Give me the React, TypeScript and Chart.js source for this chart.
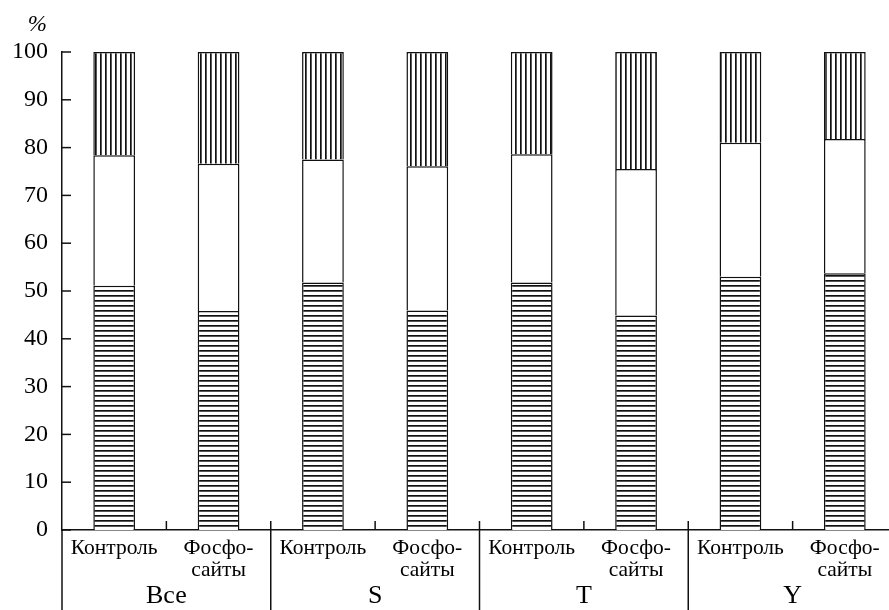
import React, { useEffect, useRef } from "react";
import { Chart, registerables } from "chart.js";

Chart.register(...registerables);

const categories: (string | string[])[] = [
  "Контроль", ["Фосфо-", "сайты"],
  "Контроль", ["Фосфо-", "сайты"],
  "Контроль", ["Фосфо-", "сайты"],
  "Контроль", ["Фосфо-", "сайты"],
];
const groups = ["Все", "S", "T", "Y"];
const bottomPart = [51.1, 45.8, 51.8, 45.9, 51.8, 44.9, 53.0, 53.7];
const middlePart = [27.3, 30.8, 25.7, 30.2, 26.8, 30.6, 28.0, 28.1];
const topPart = [21.6, 23.4, 22.5, 23.9, 21.4, 24.5, 19.0, 18.2];
const yTicks = [0, 10, 20, 30, 40, 50, 60, 70, 80, 90, 100];

const FONT = "'Liberation Serif'";
const LINE = "#111";

function makePattern(horizontal: boolean): CanvasPattern | string {
  const tile = document.createElement("canvas");
  tile.width = 5;
  tile.height = 5;
  const c = tile.getContext("2d");
  if (!c) return "#fff";
  c.fillStyle = "#fff";
  c.fillRect(0, 0, 5, 5);
  c.fillStyle = LINE;
  if (horizontal) c.fillRect(0, 0, 5, 1.7);
  else c.fillRect(0, 0, 1.7, 5);
  const p = c.createPattern(tile, "repeat");
  return p || "#fff";
}

const decorPlugin = {
  id: "decor",
  afterDraw(chart: any) {
    const { ctx, chartArea, scales } = chart;
    const x = scales.x;
    const y = scales.y;
    const line = (x1: number, y1: number, x2: number, y2: number) => {
      ctx.beginPath();
      ctx.moveTo(x1, y1);
      ctx.lineTo(x2, y2);
      ctx.stroke();
    };
    ctx.save();
    ctx.strokeStyle = LINE;
    ctx.lineWidth = 1.5;
    y.ticks.forEach((t: any) => {
      const py = y.getPixelForValue(t.value);
      line(chartArea.left, py, chartArea.left + 9, py);
    });
    for (let i = 1; i < categories.length; i++) {
      const bx = (x.getPixelForValue(i - 1) + x.getPixelForValue(i)) / 2;
      const isGroupEdge = i % 2 === 0;
      line(bx, chartArea.bottom - 9, bx, isGroupEdge ? chart.height : chartArea.bottom);
    }
    line(chartArea.left, chartArea.bottom, chartArea.left, chart.height);
    ctx.fillStyle = "#000";
    ctx.font = `italic 23px ${FONT}`;
    ctx.textAlign = "right";
    ctx.textBaseline = "alphabetic";
    ctx.fillText("%", chartArea.left - 15, chartArea.top - 21);
    ctx.restore();
  },
};

export default function App() {
  const ref = useRef<HTMLCanvasElement>(null);
  useEffect(() => {
    if (!ref.current) return;
    Chart.defaults.font.family = FONT;
    const hPat = makePattern(true);
    const vPat = makePattern(false);
    const border = { top: 1.5, left: 1.5, right: 1.5, bottom: 0 };
    const common = {
      borderColor: LINE,
      borderWidth: border,
      borderSkipped: false as const,
      barPercentage: 0.4,
      categoryPercentage: 1,
      xAxisID: "x",
      yAxisID: "y",
    };
    const chart = new Chart(ref.current, {
      type: "bar",
      data: {
        labels: categories,
        datasets: [
          { label: "bottom", data: bottomPart, backgroundColor: hPat as any, ...common },
          { label: "middle", data: middlePart, backgroundColor: "#fff", ...common },
          { label: "top", data: topPart, backgroundColor: vPat as any, ...common },
        ],
      },
      options: {
        animation: false,
        responsive: false,
        devicePixelRatio: 1,
        layout: { padding: { left: 8, top: 52, right: 4, bottom: 0 } },
        plugins: { legend: { display: false }, tooltip: { enabled: false } },
        scales: {
          x: {
            stacked: true,
            weight: 0,
            grid: { display: false, drawTicks: false },
            border: { display: true, color: LINE, width: 1.5 },
            ticks: {
              color: "#000",
              font: { family: FONT, size: 21.5, lineHeight: 1.03 },
              padding: 7,
              autoSkip: false,
              maxRotation: 0,
            },
            afterFit: (s: any) => {
              s.height = 50;
            },
          },
          x2: {
            type: "category",
            labels: groups,
            position: "bottom",
            offset: true,
            weight: 1,
            grid: { display: false, drawTicks: false },
            border: { display: false },
            ticks: {
              color: "#000",
              font: { family: FONT, size: 26, lineHeight: 1.2 },
              padding: 1,
              autoSkip: false,
              maxRotation: 0,
            },
            afterFit: (s: any) => {
              s.height = 30;
            },
          },
          y: {
            stacked: true,
            min: 0,
            max: 100,
            afterBuildTicks: (s: any) => {
              s.ticks = yTicks.map((v) => ({ value: v }));
            },
            grid: { display: false, drawTicks: false },
            border: { display: true, color: LINE, width: 1.5 },
            ticks: {
              color: "#000",
              font: { family: FONT, size: 24 },
              padding: 14,
            },
            afterFit: (s: any) => {
              s.width = 54;
            },
          },
        },
      },
      plugins: [decorPlugin],
    });
    return () => chart.destroy();
  }, []);
  return (
    <div
      style={{
        position: "absolute",
        left: 0,
        top: 0,
        width: 889,
        height: 610,
        overflow: "hidden",
        background: "#fff",
      }}
    >
      <canvas ref={ref} width={901} height={610} style={{ display: "block", width: 901, height: 610 }} />
    </div>
  );
}
